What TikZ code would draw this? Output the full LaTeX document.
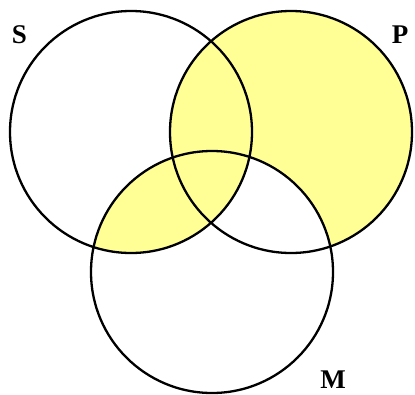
\documentclass[tikz,border=0pt]{standalone}
\usepackage{fontspec}
\setmainfont{Liberation Serif}
\definecolor{venn}{RGB}{255,255,150}
\begin{document}
\begin{tikzpicture}[x=1pt,y=-1pt,
  ring/.style={draw=black,line width=2.3pt},
  lbl/.style={font=\fontsize{27}{27}\selectfont\bfseries,inner sep=0pt}]
\useasboundingbox[fill=white] (0,0) rectangle (415,394);
\coordinate (S) at (131,132);
\coordinate (P) at (291,132);
\coordinate (M) at (212,272);
\def\rr{121}
\fill[venn] (P) circle[radius=\rr];
\begin{scope}
  \clip (M) circle[radius=\rr];
  \fill[white] (P) circle[radius=\rr];
\end{scope}
\begin{scope}
  \clip (S) circle[radius=\rr];
  \fill[venn] (P) circle[radius=\rr];
  \fill[venn] (M) circle[radius=\rr];
\end{scope}
\draw[ring] (S) circle[radius=\rr];
\draw[ring] (P) circle[radius=\rr];
\draw[ring] (M) circle[radius=\rr];
\node[lbl] (ls) at (19.5,35) {S};
\node[lbl] (lp) at (400,35) {P};
\node[lbl] (lm) at (333,380) {M};
\end{tikzpicture}
\end{document}
